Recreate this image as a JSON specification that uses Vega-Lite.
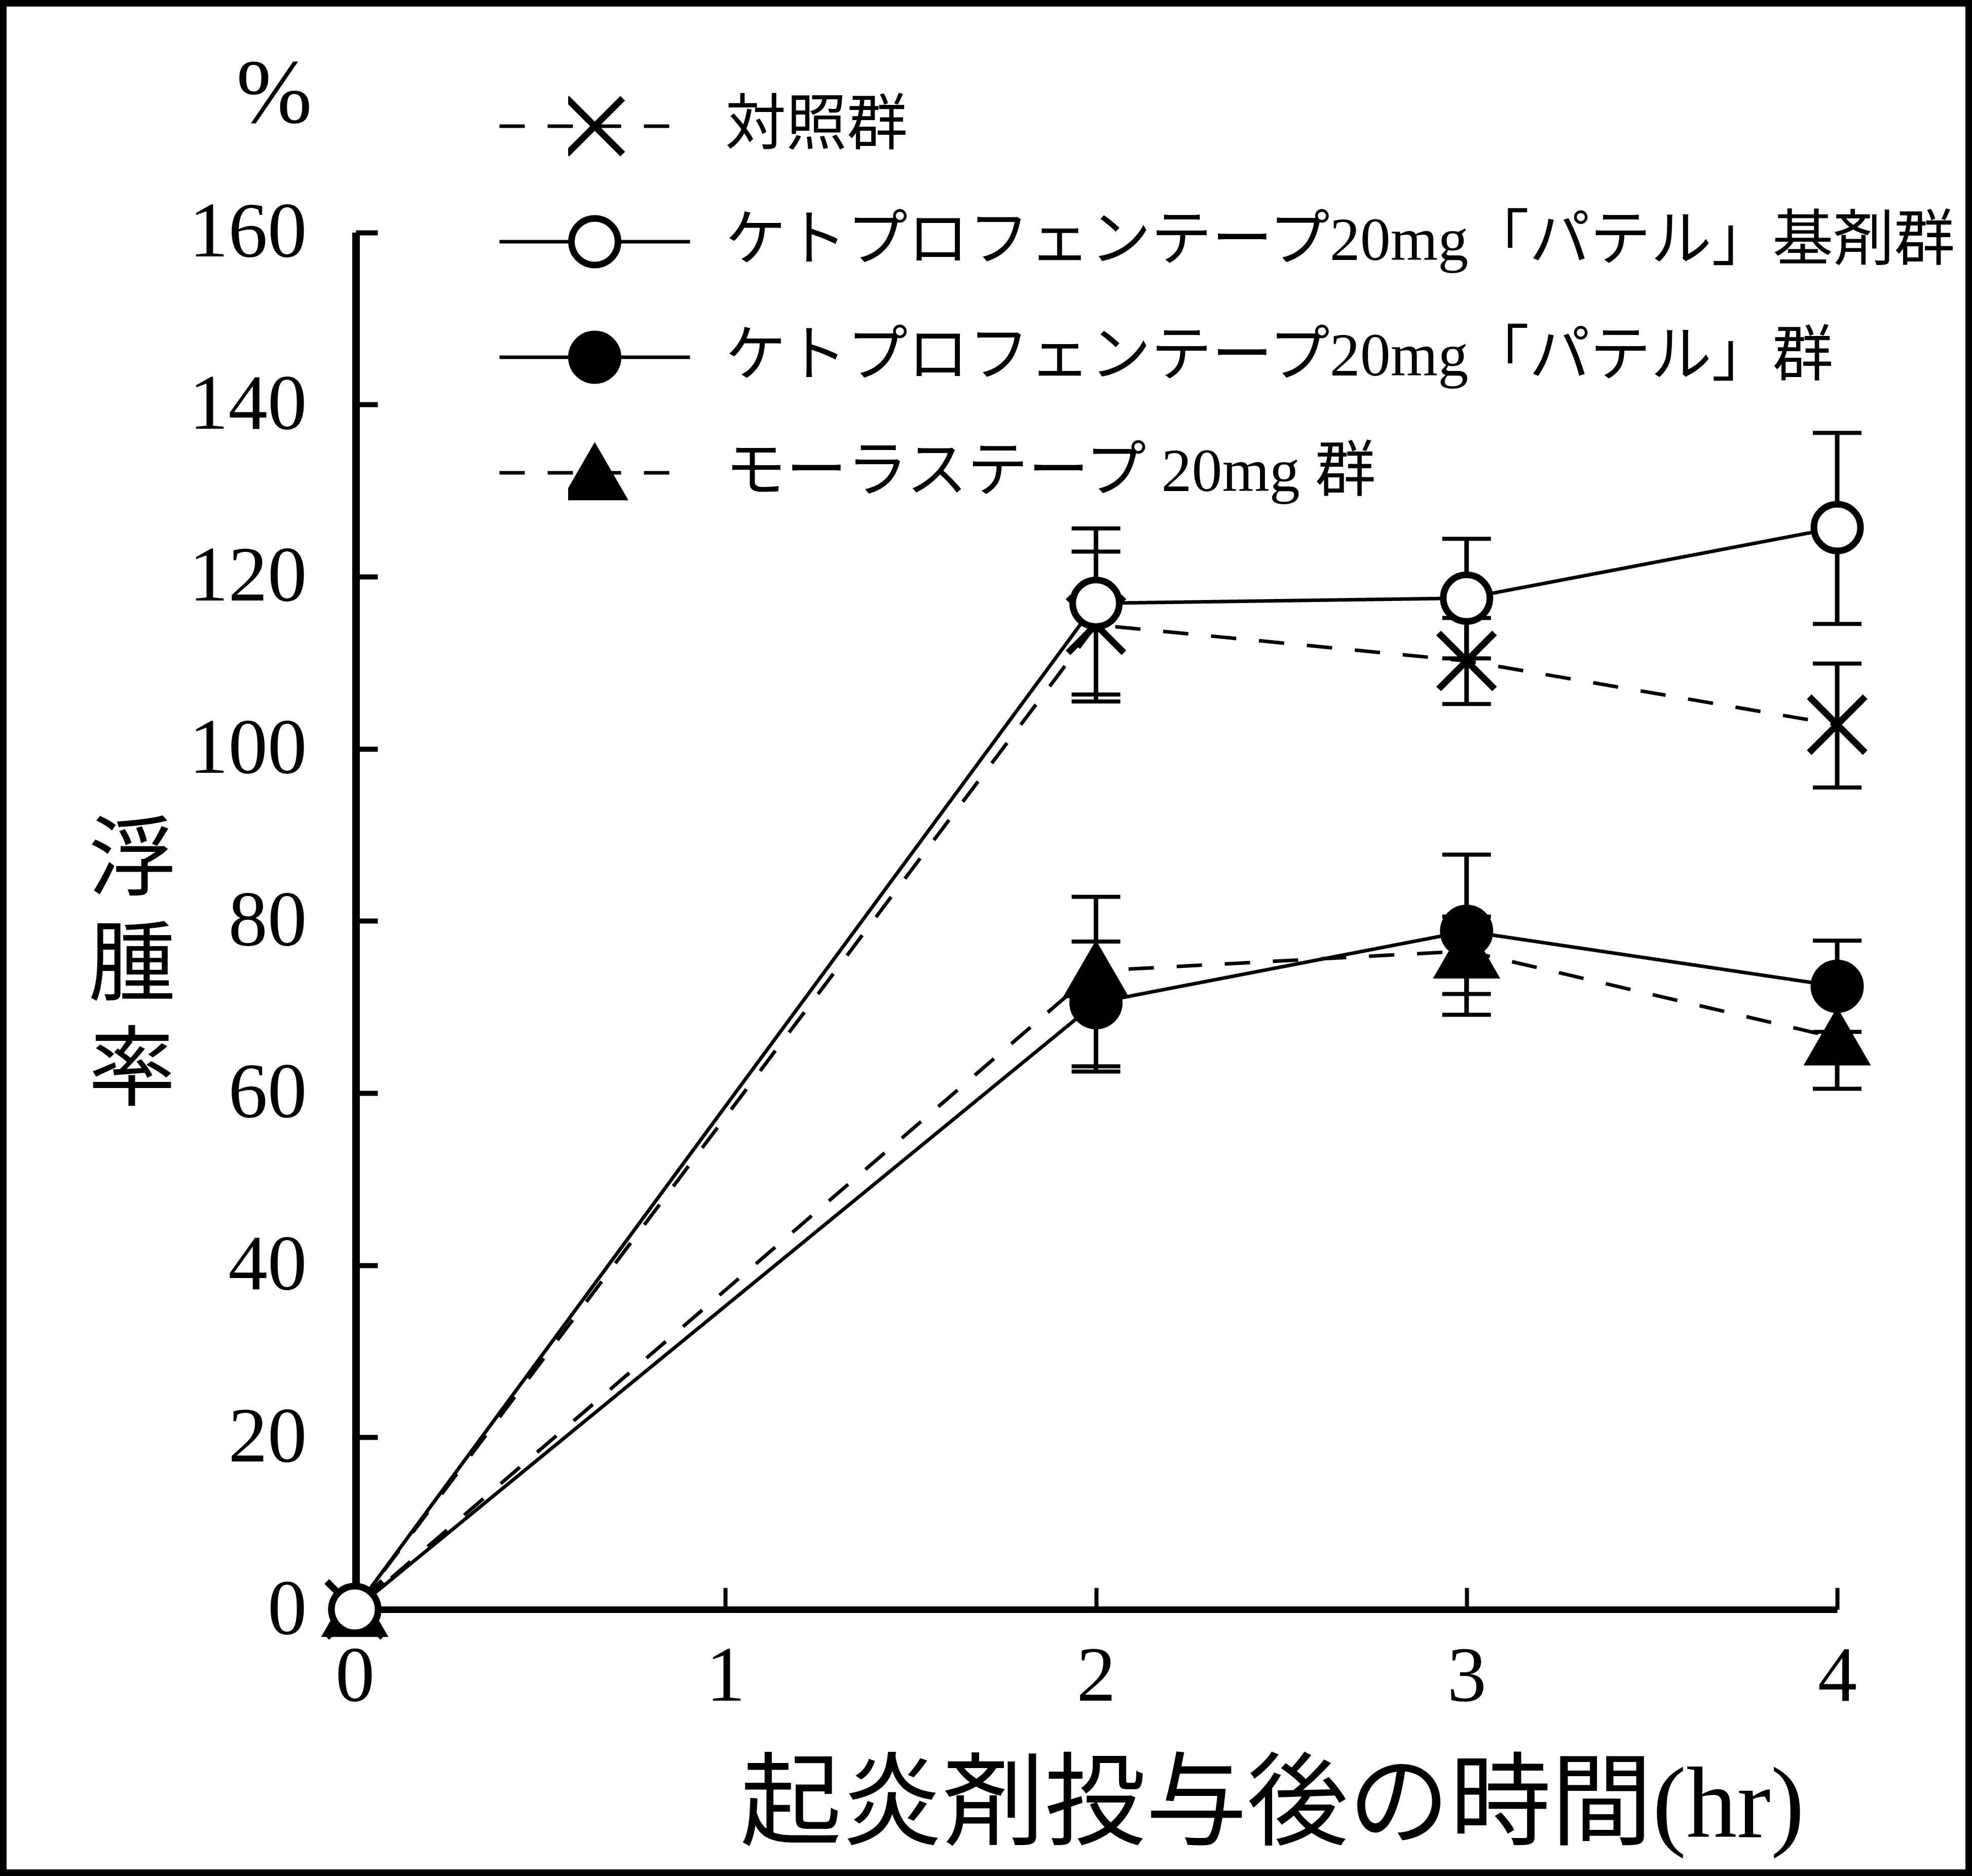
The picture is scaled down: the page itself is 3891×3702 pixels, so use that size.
{
  "$schema": "https://vega.github.io/schema/vega-lite/v6.json",
  "width": 3891,
  "height": 3702,
  "padding": 0,
  "autosize": {"type": "none"},
  "background": "white",
  "title": {
    "text": "%",
    "orient": "top",
    "anchor": "start",
    "frame": "group",
    "offset": -280,
    "dx": 466,
    "font": "Liberation Serif",
    "fontSize": 180,
    "fontWeight": "normal",
    "color": "black"
  },
  "config": {
    "view": {"stroke": "black", "strokeWidth": 26},
    "axis": {"grid": false, "labelColor": "black", "titleColor": "black", "domainColor": "black", "tickColor": "black"}
  },
  "data": {
    "values": [
      {"group": "対照群", "time": 0, "value": 0, "lo": null, "hi": null},
      {"group": "対照群", "time": 2, "value": 114.4, "lo": 105.5, "hi": 122.9},
      {"group": "対照群", "time": 3, "value": 110.2, "lo": 105.2, "hi": 115.2},
      {"group": "対照群", "time": 4, "value": 102.8, "lo": 95.5, "hi": 109.9},
      {"group": "モーラステープ 20mg 群", "time": 0, "value": 0, "lo": null, "hi": null},
      {"group": "モーラステープ 20mg 群", "time": 2, "value": 74.2, "lo": 62.5, "hi": 82.8},
      {"group": "モーラステープ 20mg 群", "time": 3, "value": 76.5, "lo": 71.5, "hi": 80.5},
      {"group": "モーラステープ 20mg 群", "time": 4, "value": 66.4, "lo": 60.5, "hi": 72.3},
      {"group": "ケトプロフェンテープ20mg「パテル」群", "time": 0, "value": 0, "lo": null, "hi": null},
      {"group": "ケトプロフェンテープ20mg「パテル」群", "time": 2, "value": 70.5, "lo": 63.1, "hi": 77.6},
      {"group": "ケトプロフェンテープ20mg「パテル」群", "time": 3, "value": 78.8, "lo": 69.1, "hi": 87.7},
      {"group": "ケトプロフェンテープ20mg「パテル」群", "time": 4, "value": 72.4, "lo": 67.1, "hi": 77.7},
      {"group": "ケトプロフェンテープ20mg「パテル」基剤群", "time": 0, "value": 0, "lo": null, "hi": null},
      {"group": "ケトプロフェンテープ20mg「パテル」基剤群", "time": 2, "value": 116.9, "lo": 106.3, "hi": 125.6},
      {"group": "ケトプロフェンテープ20mg「パテル」基剤群", "time": 3, "value": 117.5, "lo": 110.5, "hi": 124.4},
      {"group": "ケトプロフェンテープ20mg「パテル」基剤群", "time": 4, "value": 125.7, "lo": 114.5, "hi": 136.7}
    ]
  },
  "encoding": {
    "x": {
      "field": "time",
      "type": "quantitative",
      "scale": {"domain": [0, 4], "range": [700, 3625], "nice": false, "zero": false},
      "axis": {
        "orient": "bottom",
        "offset": -526,
        "values": [0, 1, 2, 3, 4],
        "format": "d",
        "domainWidth": 13,
        "tickWidth": 8,
        "tickSize": -43,
        "labelFont": "Liberation Serif",
        "labelFontSize": 155,
        "labelBaseline": "middle",
        "labelPadding": 175,
        "labelLimit": 0,
        "labelFlush": false,
        "labelOverlap": false,
        "labelBound": false,
        "title": "起炎剤投与後の時間(hr)",
        "titleFont": "Liberation Serif, Noto Sans CJK JP",
        "titleFontSize": 200,
        "titleFontWeight": "normal",
        "titleX": 2510,
        "titleY": 388,
        "titleAlign": "center",
        "titleBaseline": "middle"
      }
    }
  },
  "layer": [
    {
      "mark": {"type": "line", "color": "black", "strokeWidth": 7},
      "encoding": {
        "y": {
          "field": "value",
          "type": "quantitative",
          "scale": {"domain": [0, 160], "range": [3176, 458.5], "nice": false, "zero": false},
          "axis": {
            "orient": "left",
            "offset": -702,
            "values": [0, 20, 40, 60, 80, 100, 120, 140, 160],
            "domainWidth": 15,
            "tickWidth": 10,
            "tickSize": -43,
            "labelFont": "Liberation Serif",
            "labelFontSize": 155,
            "labelBaseline": "middle",
            "labelPadding": 140,
            "labelLimit": 0,
            "labelFlush": false,
            "labelOverlap": false,
            "labelBound": false,
            "title": ["浮", "腫", "率"],
            "titleFont": "Noto Sans CJK JP",
            "titleFontSize": 172,
            "titleFontWeight": "normal",
            "titleLineHeight": 207,
            "titleAngle": 0,
            "titleX": -442,
            "titleY": 1700,
            "titleAlign": "center",
            "titleBaseline": "middle"
          }
        },
        "strokeDash": {
          "field": "group",
          "type": "nominal",
          "sort": ["対照群", "ケトプロフェンテープ20mg「パテル」基剤群", "ケトプロフェンテープ20mg「パテル」群", "モーラステープ 20mg 群"],
          "scale": {"range": [[50, 45], [1, 0], [1, 0], [50, 45]]},
          "legend": {
            "orient": "none",
            "legendX": 982,
            "legendY": 135,
            "title": null,
            "padding": 0,
            "rowPadding": 0,
            "clipHeight": 228,
            "symbolType": "stroke",
            "symbolSize": 141376,
            "symbolStrokeWidth": 7,
            "symbolStrokeColor": "black",
            "labelFont": "Liberation Serif, Noto Sans CJK JP",
            "labelFontSize": 120,
            "labelColor": "black",
            "labelLimit": 0,
            "labelOffset": 66,
            "labelBaseline": "middle"
          }
        }
      }
    },
    {
      "mark": {"type": "rule", "color": "black", "strokeWidth": 9},
      "encoding": {
        "y": {"field": "lo", "type": "quantitative"},
        "y2": {"field": "hi"}
      }
    },
    {
      "mark": {"type": "tick", "orient": "horizontal", "color": "black", "size": 96, "thickness": 8, "opacity": 1},
      "encoding": {"y": {"field": "lo", "type": "quantitative"}}
    },
    {
      "mark": {"type": "tick", "orient": "horizontal", "color": "black", "size": 96, "thickness": 8, "opacity": 1},
      "encoding": {"y": {"field": "hi", "type": "quantitative"}}
    },
    {
      "mark": {"type": "point", "stroke": "black", "strokeWidth": 13, "size": 8464, "opacity": 1},
      "encoding": {
        "y": {"field": "value", "type": "quantitative"},
        "shape": {
          "field": "group",
          "type": "nominal",
          "scale": {
            "domain": ["対照群", "ケトプロフェンテープ20mg「パテル」基剤群", "ケトプロフェンテープ20mg「パテル」群", "モーラステープ 20mg 群"],
            "range": ["M-1.2,-1.2L1.2,1.2M-1.2,1.2L1.2,-1.2", "circle", "circle", "M0,-1.04L1.2,1.04L-1.2,1.04Z"]
          },
          "legend": {
            "orient": "none",
            "legendX": 1121,
            "legendY": 135,
            "title": null,
            "padding": 0,
            "rowPadding": 0,
            "clipHeight": 228,
            "symbolSize": 8464,
            "symbolStrokeWidth": 13,
            "symbolStrokeColor": "black",
            "symbolOpacity": 1,
            "labelFontSize": 10,
            "labelOpacity": 0,
            "encode": {
              "symbols": {
                "update": {
                  "stroke": {"value": "black"},
                  "strokeWidth": {"value": 13},
                  "opacity": {"value": 1}
                }
              }
            }
          }
        },
        "fill": {
          "field": "group",
          "type": "nominal",
          "scale": {
            "domain": ["対照群", "ケトプロフェンテープ20mg「パテル」基剤群", "ケトプロフェンテープ20mg「パテル」群", "モーラステープ 20mg 群"],
            "range": ["white", "white", "black", "black"]
          },
          "legend": {
            "orient": "none",
            "legendX": 1121,
            "legendY": 135,
            "title": null,
            "padding": 0,
            "rowPadding": 0,
            "clipHeight": 228,
            "symbolSize": 8464,
            "symbolStrokeWidth": 13,
            "symbolStrokeColor": "black",
            "symbolOpacity": 1,
            "labelFontSize": 10,
            "labelOpacity": 0,
            "encode": {
              "symbols": {
                "update": {
                  "stroke": {"value": "black"},
                  "strokeWidth": {"value": 13},
                  "opacity": {"value": 1}
                }
              }
            }
          }
        }
      }
    }
  ]
}
